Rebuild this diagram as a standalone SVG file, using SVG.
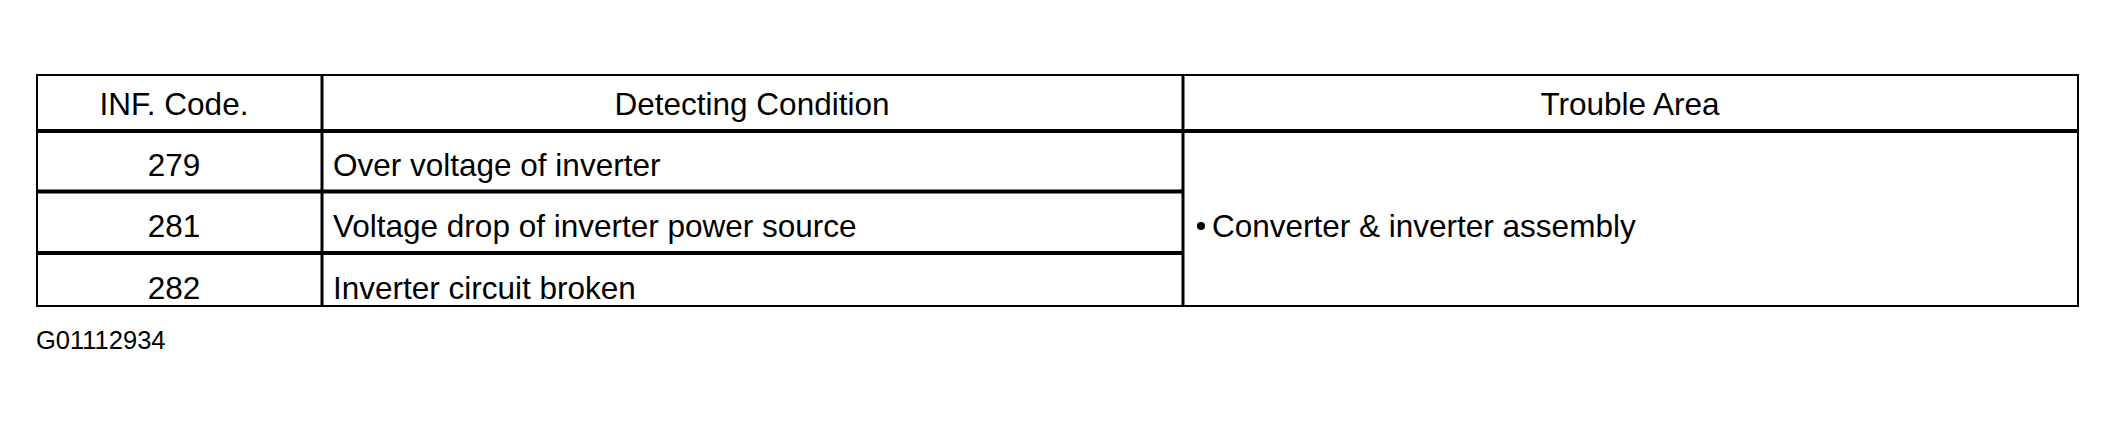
<svg xmlns="http://www.w3.org/2000/svg" width="2116" height="426" viewBox="0 0 2116 426">
<style>
.t{font-family:"Liberation Sans",Arial,sans-serif;font-size:31.5px;fill:#000}
.c{text-anchor:middle}
.thin{stroke:#000;stroke-width:2;fill:none}
.thick{stroke:#000;stroke-width:4;fill:none}
.mid{stroke:#000;stroke-width:3;fill:none}
</style>
<rect width="2116" height="426" fill="#fff"/>
<g id="table-grid">
<rect class="thin" x="37" y="75" width="2041" height="231"/>
<line class="thick" x1="37" y1="131" x2="2078" y2="131"/>
<line class="thick" x1="37" y1="191.5" x2="1183" y2="191.5"/>
<line class="thick" x1="37" y1="253" x2="1183" y2="253"/>
<line class="mid" x1="322" y1="75" x2="322" y2="306"/>
<line class="mid" x1="1183" y1="75" x2="1183" y2="306"/>
</g>
<g id="header">
<text class="t c" x="174" y="115">INF. Code.</text>
<text class="t c" x="752" y="115">Detecting Condition</text>
<text class="t c" x="1630" y="115">Trouble Area</text>
</g>
<g id="row-279">
<text class="t c" x="174" y="176">279</text>
<text class="t" x="333" y="176">Over voltage of inverter</text>
</g>
<g id="row-281">
<text class="t c" x="174" y="237">281</text>
<text class="t" x="333" y="237">Voltage drop of inverter power source</text>
</g>
<g id="row-282">
<text class="t c" x="174" y="299">282</text>
<text class="t" x="333" y="299">Inverter circuit broken</text>
</g>
<g id="trouble-area">
<circle cx="1201" cy="226" r="4" fill="#000"/>
<text class="t" x="1212" y="237">Converter &amp; inverter assembly</text>
</g>
<text x="36" y="349" style="font-family:'Liberation Sans',Arial,sans-serif;font-size:25.5px;fill:#000">G01112934</text>
</svg>
